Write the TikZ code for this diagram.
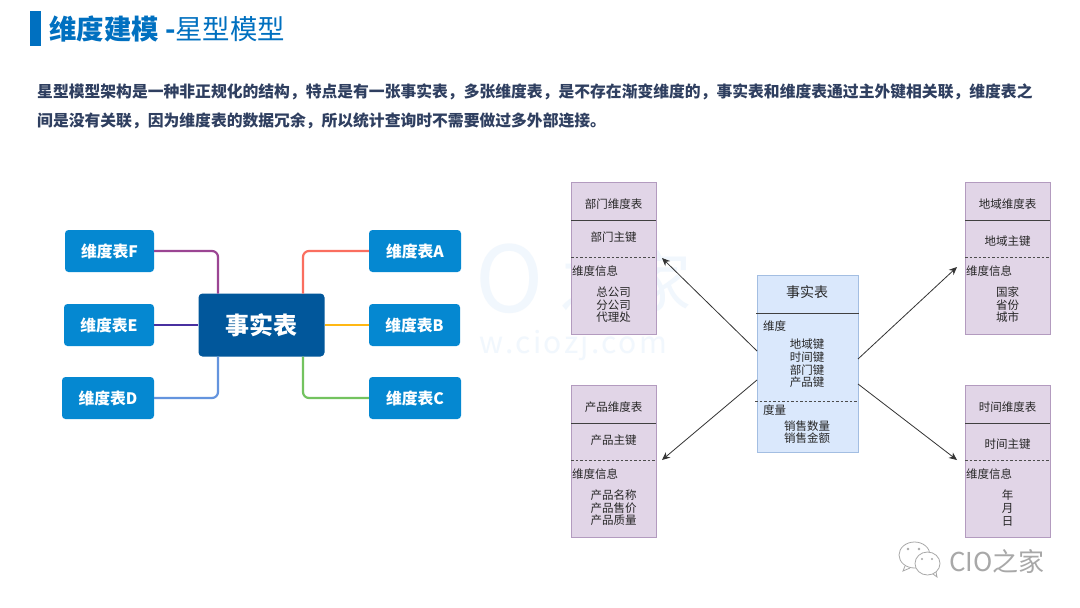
\documentclass[tikz,border=0pt]{standalone}
\usepackage{fontspec}
\setmainfont{Noto Sans CJK SC}
\usetikzlibrary{arrows.meta}
\definecolor{topblue}{HTML}{0070C0}
\definecolor{bodyink}{HTML}{2F3F60}
\definecolor{dimfill}{HTML}{E1D5E7}
\definecolor{dimline}{HTML}{B39BBF}
\definecolor{factfill}{HTML}{DAE8FC}
\definecolor{factline}{HTML}{A3BEE2}
\definecolor{leafblue}{HTML}{0588D1}
\definecolor{hubblue}{HTML}{01579B}
\definecolor{linkF}{HTML}{9B4593}
\definecolor{linkE}{HTML}{4830A0}
\definecolor{linkD}{HTML}{6494DE}
\definecolor{linkA}{HTML}{FA6E5F}
\definecolor{linkB}{HTML}{FFB814}
\definecolor{linkC}{HTML}{73C35F}
\definecolor{faintblue}{HTML}{F1F7FD}
\definecolor{markgrey}{HTML}{A8A8A8}
\tikzset{
  x=1pt,y=-1pt,
  leaf/.style={fill=leafblue,rounded corners=3.5pt,text=white,font=\bfseries\fontsize{15.8}{15.8}\selectfont,inner sep=0pt,align=center},
  link/.style={line width=2.2pt,rounded corners=6pt},
  dimbox/.style={fill=dimfill,draw=dimline,line width=1pt},
  factbox/.style={fill=factfill,draw=factline,line width=1pt},
  lab/.style={font=\fontsize{11.5}{12.6}\selectfont,align=center,inner sep=0pt,text=black!85},
  solidrule/.style={draw=black!75,line width=0.8pt},
  dashrule/.style={draw=black!70,line width=0.7pt,dash pattern=on 2.5pt off 2pt},
  arrow/.style={draw=black!80,line width=0.8pt,-{Stealth[length=8pt,width=7pt]}},
  bubble/.style={draw=markgrey,line width=0.8pt,fill=white},
}
\begin{document}
\begin{tikzpicture}
\useasboundingbox (0,0) rectangle (1080,608);
\fill[white] (0,0) rectangle (1080,608);
% faint watermark
\node[inner sep=0pt,text=faintblue,font=\fontsize{92}{92}\selectfont] (wm0) at (510,279) {O};
\node[inner sep=0pt,text=faintblue,font=\fontsize{66}{66}\selectfont] (wm1) at (625,281) {之家};
\node[inner sep=0pt,text=faintblue,font=\fontsize{30}{30}\selectfont] (wm2) at (573.5,346) {\addfontfeature{LetterSpace=8}w.ciozj.com};
% header
\fill[topblue] (30,11) rectangle (41,46);
\node[anchor=west,inner sep=0pt,text=topblue] (title) at (49,29) {\fontsize{27.4}{27.4}\selectfont\textbf{维度建模 -}星型模型};
\node[anchor=west,inner sep=0pt,text=bodyink,font=\bfseries\fontsize{15.8}{15.8}\selectfont] (l1) at (37,92) {星型模型架构是一种非正规化的结构，特点是有一张事实表，多张维度表，是不存在渐变维度的，事实表和维度表通过主外键相关联，维度表之};
\node[anchor=west,inner sep=0pt,text=bodyink,font=\bfseries\fontsize{15.8}{15.8}\selectfont] (l2) at (37,121) {间是没有关联，因为维度表的数据冗余，所以统计查询时不需要做过多外部连接。};
% left mind map
\node[fill=hubblue,rounded corners=4pt,minimum width=126pt,minimum height=63pt,inner sep=0pt,text=white,font=\bfseries\fontsize{24}{24}\selectfont] (hub) at (261.5,325) {事实表};
\node[leaf,minimum width=89pt,minimum height=42pt] (F) at (109.5,251) {维度表F};
\node[leaf,minimum width=90pt,minimum height=42pt] (E) at (109,325) {维度表E};
\node[leaf,minimum width=92pt,minimum height=42pt] (D) at (108,398) {维度表D};
\node[leaf,minimum width=92pt,minimum height=42pt] (A) at (415,251) {维度表A};
\node[leaf,minimum width=91pt,minimum height=42pt] (B) at (414.5,325) {维度表B};
\node[leaf,minimum width=92pt,minimum height=42pt] (C) at (415,398) {维度表C};
\coordinate (hf) at (218,293.5);
\coordinate (hd) at (218,356.5);
\coordinate (ha) at (303,293.5);
\coordinate (hc) at (303,356.5);
\draw[link,draw=linkF] (F.east) -| (hf);
\draw[link,draw=linkE] (E.east) -- (hub.west);
\draw[link,draw=linkD] (D.east) -| (hd);
\draw[link,draw=linkA] (A.west) -| (ha);
\draw[link,draw=linkB] (B.west) -- (hub.east);
\draw[link,draw=linkC] (C.west) -| (hc);
% dimension tables
\newcommand{\dimtable}[9]{% name,x,y,title,keyoffset,key,l1,l2,l3
  \node[dimbox,anchor=north west,minimum width=84.5pt,minimum height=151.5pt,inner sep=0pt] (#1) at (#2,#3) {};
  \draw[solidrule] (#2,#3+38) -- (#2+85,#3+38);
  \draw[dashrule] (#2,#3+75.5) -- (#2+85,#3+75.5);
  \node[lab] (#1t) at (#2+42.5,#3+22) {#4};
  \node[lab] (#1k) at (#2+42.5,#3+#5) {#6};
  \node[lab,anchor=west] (#1i) at (#2+1,#3+89) {维度信息};
  \node[lab] (#1l) at (#2+42.5,#3+123) {#7\\#8\\#9};
}
\dimtable{dept}{571}{182}{部门维度表}{55}{部门主键}{总公司}{分公司}{代理处}
\dimtable{prod}{571}{385}{产品维度表}{55}{产品主键}{产品名称}{产品售价}{产品质量}
\dimtable{geo}{965}{182}{地域维度表}{59}{地域主键}{国家}{省份}{城市}
\dimtable{time}{965}{385}{时间维度表}{59}{时间主键}{年}{月}{日}
% fact table
\node[factbox,anchor=north west,minimum width=100.5pt,minimum height=176.5pt,inner sep=0pt] (fact) at (757,275) {};
\draw[solidrule] (756,313) -- (859,313);
\draw[dashrule] (755,401) -- (858,401);
\node[lab,font=\fontsize{14}{14}\selectfont] (ft) at (807,292) {事实表};
\node[lab,anchor=west] (fd) at (763,326) {维度};
\node[lab] (fk) at (807,363.5) {地域键\\时间键\\部门键\\产品键};
\node[lab,anchor=west] (fm) at (763,410) {度量};
\node[lab] (fv) at (807,432) {销售数量\\销售金额};
% arrows
\coordinate (fnw) at (757,351);
\coordinate (fne) at (858,359);
\coordinate (fsw) at (757,380);
\coordinate (fse) at (858,384);
\coordinate (tdept) at (662,258);
\coordinate (tprod) at (662,460);
\coordinate (tgeo) at (957,267);
\coordinate (ttime) at (957,460);
\draw[arrow] (fnw) -- (tdept);
\draw[arrow] (fsw) -- (tprod);
\draw[arrow] (fne) -- (tgeo);
\draw[arrow] (fse) -- (ttime);
% wechat mark
\draw[bubble] (914.5,555) ellipse (15.5 and 13);
\draw[markgrey,line width=0.8pt] (905,566) -- (903,571) -- (910,568);
\fill[markgrey] (908,549) circle (1.3);
\fill[markgrey] (919,549) circle (1.3);
\draw[bubble] (927.5,563.5) ellipse (12.5 and 11.5);
\draw[markgrey,line width=0.8pt] (933,574) -- (937,577) -- (936,572);
\fill[markgrey] (922,559) circle (1.2);
\fill[markgrey] (932,559) circle (1.2);
\node[anchor=west,inner sep=0pt,text=markgrey,font=\fontsize{26}{26}\selectfont] (cio) at (949,561) {CIO之家};
\end{tikzpicture}
\end{document}
